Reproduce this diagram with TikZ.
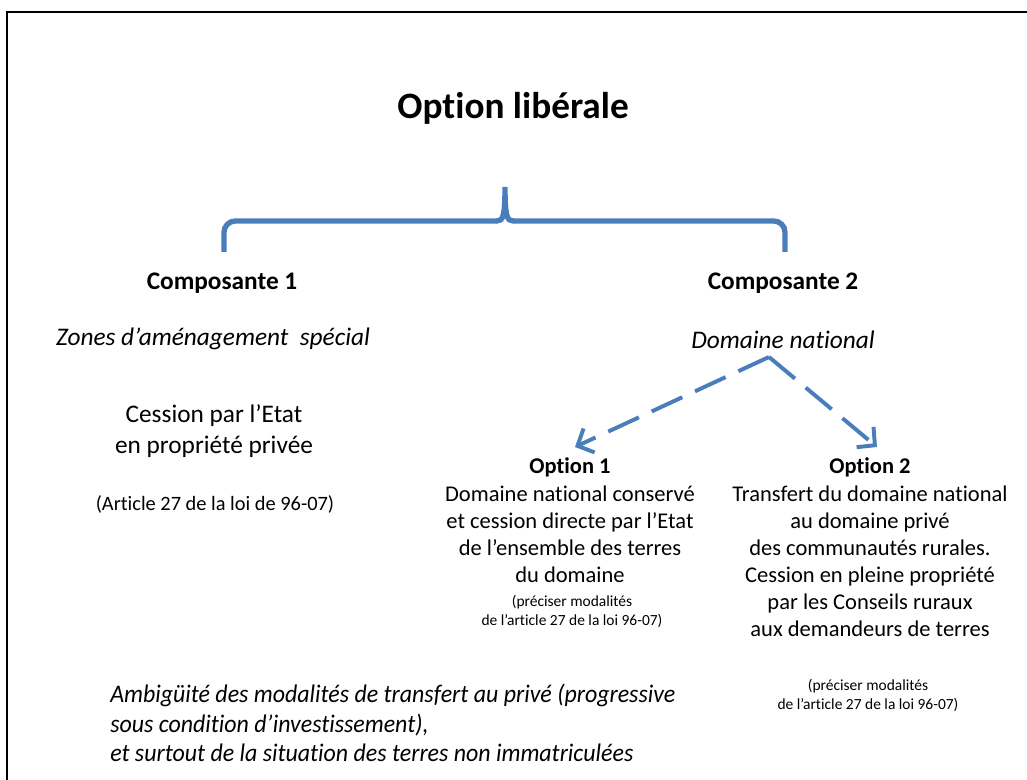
\documentclass[tikz,border=0pt]{standalone}
\usepackage{fontspec}
\setmainfont{Carlito}[Ligatures={TeX,NoCommon}]
\newfontfamily\mince[FakeStretch=0.945,Ligatures={TeX,NoCommon}]{Carlito}
\usetikzlibrary{arrows.meta,calc}
\definecolor{ink}{HTML}{000000}
\definecolor{bleu}{HTML}{4A7EBB}
\tikzset{
  titre/.style={font=\bfseries\fontsize{26.5}{32}\selectfont,text=ink,inner sep=0pt},
  compo/.style={font=\bfseries\fontsize{18}{22}\selectfont,text=ink,inner sep=0pt},
  theme/.style={font=\itshape\fontsize{18}{22}\selectfont,text=ink,inner sep=0pt},
  corps/.style={font=\fontsize{18}{21.5}\selectfont,align=center,text=ink,inner sep=0pt},
  petit/.style={font=\fontsize{14.5}{17}\selectfont,text=ink,inner sep=0pt},
  opt/.style={font=\bfseries\fontsize{16}{19}\selectfont,text=ink,inner sep=0pt},
  optcorps/.style={font=\fontsize{16}{19.2}\selectfont,align=center,text=ink,inner sep=0pt},
  note/.style={font=\fontsize{11}{13.5}\selectfont,align=center,text=ink,inner sep=0pt},
  remarque/.style={font=\mince\itshape\fontsize{18}{21}\selectfont,align=left,text=ink,inner sep=0pt},
  accolade/.style={draw=bleu,line width=3.8pt},
  pointille/.style={draw=bleu,line width=2.8pt,dash pattern=on 24pt off 10pt,
                    -{Straight Barb[length=3.2mm,width=6.6mm]}},
}

\begin{document}
\begin{tikzpicture}[x=0.025cm,y=-0.025cm]
  \useasboundingbox (0,0) rectangle (1027,780);
  % cadre de la diapositive
  \draw[ink,line width=1.6pt] (7,780) -- (7,12) -- (1027,12);

  \node[titre] (titre) at (513,108) {Option libérale};

  % ---------------------------------------------------------------- accolade
  \coordinate (pointe) at (505,187);
  \coordinate (bras1) at (224,252);
  \coordinate (bras2) at (785,252);
  \draw[accolade,rounded corners=8] (bras1) -- (bras1 |- 0,221) -- (497,221);
  \draw[accolade,rounded corners=8] (513,221) -- (bras2 |- 0,221) -- (bras2);
  \draw[accolade,line cap=round] (497,221) .. controls (503,221) and (505,216) .. (pointe)
                                           .. controls (505,216) and (507,221) .. (513,221);

  % ---------------------------------------------------------------- composante 1
  \node[compo] (comp1) at (222,283) {Composante 1};
  \node[theme] (zones) at (213,339) {Zones d’aménagement\ \ spécial};
  \node[corps] (cession) at (214,431) {Cession par l’Etat\\en propriété privée};
  \node[petit] (art) at (215,504) {(Article 27 de la loi de 96-07)};

  % ---------------------------------------------------------------- composante 2
  \node[compo] (comp2) at (783,283) {Composante 2};
  \node[theme] (domnat) at (783,340) {Domaine national};
  \coordinate (sommet) at (769,357);
  \coordinate (bout1) at (575,447);
  \coordinate (bout2) at (877,447);
  \draw[pointille] (sommet) -- (bout1);
  \draw[pointille] (sommet) -- (bout2);

  \node[opt] (opt1) at (570,467) {Option 1};
  \node[optcorps] (opt1txt) at (570,534)
       {Domaine national conservé\\et cession directe par l’Etat\\de l’ensemble des terres\\du domaine};
  \node[note] (opt1note) at (572,611) {(préciser modalités\\de l’article 27 de la loi 96-07)};

  \node[opt] (opt2) at (870,467) {Option 2};
  \node[optcorps] (opt2txt) at (870,561)
       {Transfert du domaine national\\au domaine privé\\des communautés rurales.\\
        Cession en pleine propriété\\par les Conseils ruraux\\aux demandeurs de terres};
  \node[note] (opt2note) at (868,695) {(préciser modalités\\de l’article 27 de la loi 96-07)};

  % ---------------------------------------------------------------- remarque
  \node[remarque,anchor=west] (ambig) at (110,723)
       {Ambigüité des modalités de transfert au privé (progressive\\
        sous condition d’investissement),\\
        et surtout de la situation des terres non immatriculées};
\end{tikzpicture}
\end{document}
